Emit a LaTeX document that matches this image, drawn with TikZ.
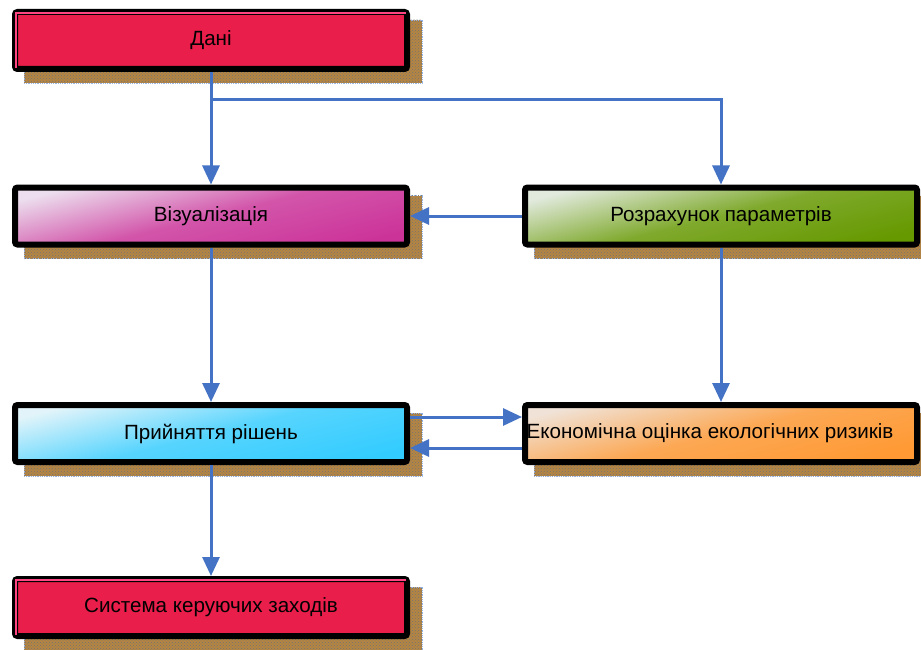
\documentclass[tikz,border=0pt]{standalone}
\usepackage{fontspec}
\setmainfont{Liberation Sans}
\usetikzlibrary{arrows.meta,patterns,backgrounds,calc}
\definecolor{arrowblue}{RGB}{68,114,196}
\definecolor{pinkred}{RGB}{234,30,74}
\definecolor{pinkedge}{RGB}{255,70,130}
\definecolor{shadowbrown}{RGB}{181,133,66}
\definecolor{shadowedge}{RGB}{150,180,230}
\definecolor{magdark}{RGB}{204,51,153}
\definecolor{maglight}{RGB}{236,222,238}
\definecolor{grndark}{RGB}{102,153,0}
\definecolor{grnlight}{RGB}{226,234,222}
\definecolor{cyandark}{RGB}{51,204,255}
\definecolor{cyanlight}{RGB}{226,244,250}
\definecolor{orgdark}{RGB}{255,153,51}
\definecolor{orglight}{RGB}{240,226,214}
\begin{document}
\begin{tikzpicture}[x=1pt,y=-1pt,
  box/.style={draw=black,line width=6pt,rounded corners=2.5pt,minimum width=392pt,minimum height=57pt,
    inner sep=0pt,outer sep=3pt,font=\fontsize{20.6}{24}\selectfont},
  grad/.style 2 args={top color=#1,bottom color=#2,middle color=#2!80!#1,shading angle=14},
  conn/.style={draw=arrowblue,line width=3pt},
  arr/.style={conn,-{Triangle[length=19pt,width=17pt]}},
  shadowbox/.style={fill=shadowbrown,draw=shadowedge,densely dotted,line width=0.8pt},
  shadowdots/.style={pattern=crosshatch dots,pattern color=black!55}]
\useasboundingbox (0,0) rectangle (921,650);
\node[box,fill=pinkred] (d) at (211,40.5) {Дані};
\node[box,grad={maglight}{magdark}] (v) at (211,216) {Візуалізація};
\node[box,grad={grnlight}{grndark}] (r) at (721,216) {Розрахунок параметрів};
\node[box,grad={cyanlight}{cyandark}] (p) at (211,433.5) {Прийняття рішень};
\node[box,grad={orglight}{orgdark}] (e) at (721,433.5) {\hspace*{-22pt}Економічна оцінка екологічних ризиків};
\node[box,fill=pinkred] (s) at (211,607.5) {Система керуючих заходів};
\begin{scope}[on background layer]
\fill[white] (0,0) rectangle (921,650);
\foreach \n in {d,v,r,p,e,s}{
  \path[shadowbox] ([shift={(12,11)}]\n.north west) rectangle ([shift={(12,11)}]\n.south east);
  \path[shadowdots] ([shift={(12,11)}]\n.north west) rectangle ([shift={(12,11)}]\n.south east);
}
\end{scope}
\foreach \n in {d,s}{
  \draw[pinkedge,line width=2pt] ([shift={(4,-4)}]\n.south west) -- ([shift={(4,4)}]\n.north west) -- ([shift={(-4,4)}]\n.north east);
}
\coordinate (br) at (211,100);
\draw[arr] (d.south) -- (v.north);
\draw[arr] (br) -| (r.north);
\draw[arr] (r.west) -- (v.east);
\draw[arr] (v.south) -- (p.north);
\draw[arr] (r.south) -- (e.north);
\draw[arr] ($(p.east)+(0,-16.5)$) -- ($(e.west)+(0,-16.5)$);
\draw[arr] ($(e.west)+(0,14.5)$) -- ($(p.east)+(0,14.5)$);
\draw[arr] (p.south) -- (s.north);
\end{tikzpicture}
\end{document}
